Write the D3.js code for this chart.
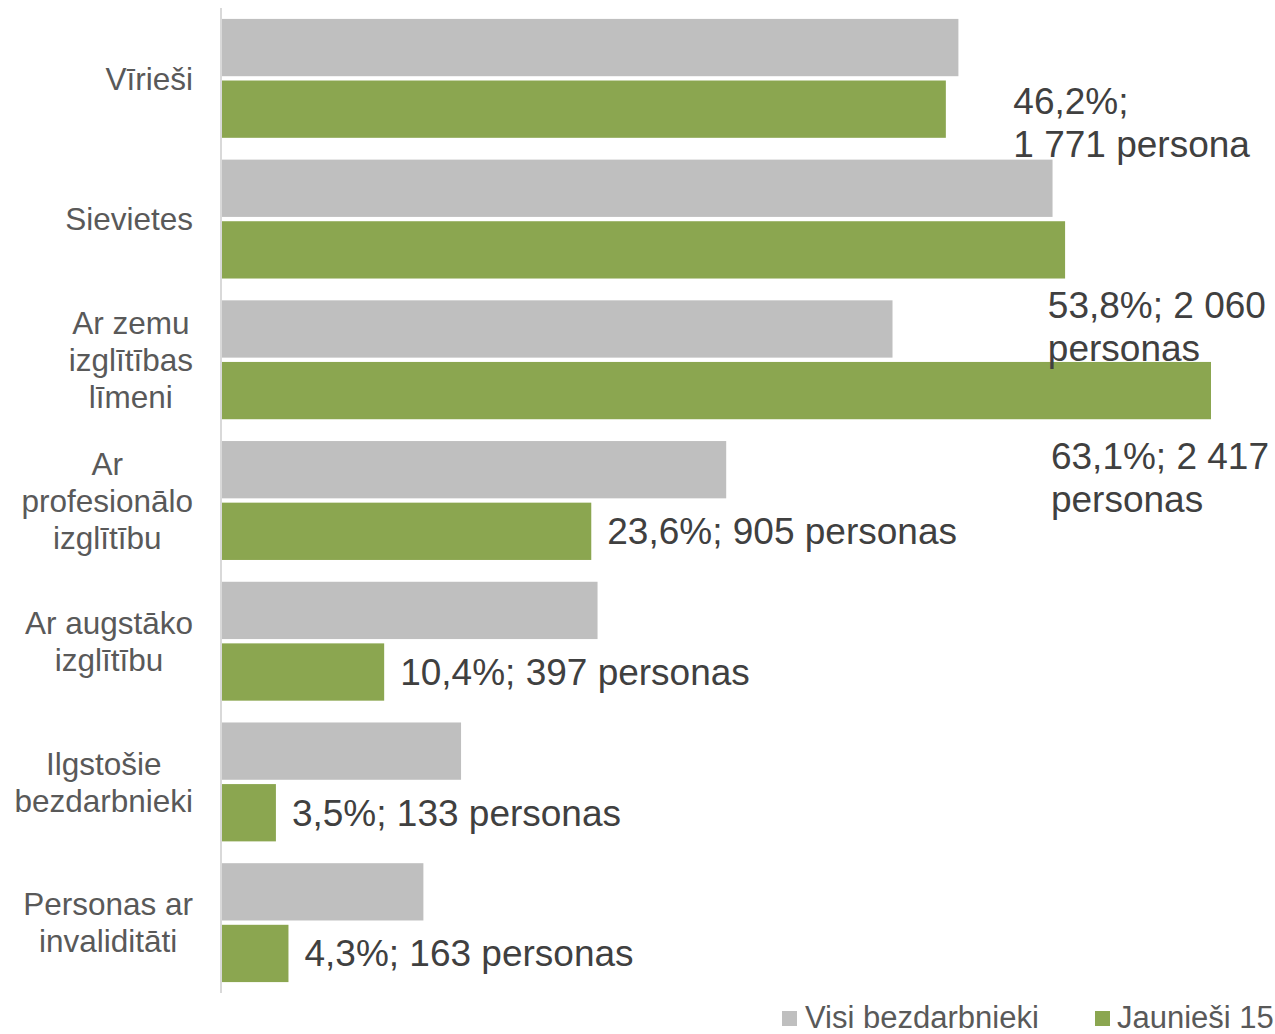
<!DOCTYPE html>
<html>
<head>
<meta charset="utf-8">
<script src="https://cdn.jsdelivr.net/npm/d3@7/dist/d3.min.js"></script>
<style>
  html, body { margin: 0; padding: 0; background: #fff; }
  svg { display: block; font-family: "Liberation Sans", Arial, sans-serif; }
</style>
</head>
<body>
<svg id="chart" width="1275" height="1034"></svg>
<script>
// ---- data ----
const categories = ["Vīrieši", "Sievietes", "Ar zemu izglītības līmeni", "Ar profesionālo izglītību", "Ar augstāko izglītību", "Ilgstošie bezdarbnieki", "Personas ar invaliditāti"];
const categoryLines = [["Vīrieši"], ["Sievietes"], ["Ar zemu", "izglītības", "līmeni"], ["Ar", "profesionālo", "izglītību"], ["Ar augstāko", "izglītību"], ["Ilgstošie", "bezdarbnieki"], ["Personas ar", "invaliditāti"]];
const seriesNames = ["Visi bezdarbnieki", "Jaunieši 15"];
const allUnemployed = [47.0, 53.0, 42.8, 32.2, 24.0, 15.3, 12.9];
const youth = [46.2, 53.8, 63.1, 23.6, 10.4, 3.5, 4.3];
const youthCounts = ["1 771", "2 060", "2 417", "905", "397", "133", "163"];
const dataLabelLines = [
  ["46,2%;", "1 771 persona"],
  ["53,8%; 2 060", "personas"],
  ["63,1%; 2 417", "personas"],
  ["23,6%; 905 personas"],
  ["10,4%; 397 personas"],
  ["3,5%; 133 personas"],
  ["4,3%; 163 personas"]
];
const seriesColors = ["#BFBFBF", "#8BA650"];

// ---- layout (manual label placements, as in the original) ----
const manualLabelX = [50.5, 52.7, 52.9, null, null, null, null]; // in value units
const manualLabelDy = [4.5, 68.5, 78, null, null, null, null];   // baseline offset from green bar centre

const svg = d3.select("#chart");
const left = 221, plotTop = 8, plotBottom = 993;

const x = d3.scaleLinear().domain([0, d3.max(youth)]).range([left, 1211]);
const y0 = d3.scaleBand().domain(categories).range([plotTop, plotBottom]).paddingInner(0.155).paddingOuter(0.0775);
const y1 = d3.scaleBand().domain(seriesNames).range([0, y0.bandwidth()]).paddingInner(0.07);

const rows = categories.map((c, i) => ({ cat: c, i, vals: [allUnemployed[i], youth[i]] }));

// bars
const g = svg.append("g");
rows.forEach(r => {
  r.vals.forEach((v, si) => {
    g.append("rect")
      .attr("x", x(0))
      .attr("y", y0(r.cat) + y1(seriesNames[si]))
      .attr("width", x(v) - x(0))
      .attr("height", y1.bandwidth())
      .attr("fill", seriesColors[si]);
  });
});

// axis line
svg.append("line")
  .attr("x1", left).attr("x2", left)
  .attr("y1", plotTop).attr("y2", plotBottom)
  .attr("stroke", "#D9D9D9").attr("stroke-width", 2);

// category labels
const catFont = 31.5, catLH = 37;
rows.forEach(r => {
  const lines = categoryLines[r.i];
  const cy = y0(r.cat) + y0.bandwidth() / 2;
  const t = svg.append("text")
    .attr("fill", "#595959")
    .attr("font-size", catFont + "px")
    .attr("text-anchor", "middle");
  const n = lines.length;
  lines.forEach((ln, k) => {
    t.append("tspan")
      .attr("y", cy + (k - (n - 1) / 2) * catLH + catFont * 0.36)
      .text(ln);
  });
  let maxW = 0;
  t.selectAll("tspan").each(function () { maxW = Math.max(maxW, this.getComputedTextLength()); });
  t.selectAll("tspan").attr("x", 193 - maxW / 2);
});

// data labels (green series)
const dlFont = 37, dlLH = 43;
rows.forEach(r => {
  const lines = dataLabelLines[r.i];
  const barCy = y0(r.cat) + y1(seriesNames[1]) + y1.bandwidth() / 2;
  const t = svg.append("text")
    .attr("fill", "#404040")
    .attr("font-size", dlFont + "px");
  if (manualLabelX[r.i] !== null) {
    lines.forEach((ln, k) => {
      t.append("tspan")
        .attr("x", x(manualLabelX[r.i]))
        .attr("y", barCy + manualLabelDy[r.i] + k * dlLH)
        .text(ln);
    });
  } else {
    t.append("tspan")
      .attr("x", x(youth[r.i]) + 16)
      .attr("y", barCy + dlFont * 0.35)
      .text(lines[0]);
  }
});

// legend
const legend = [
  { name: seriesNames[0], color: seriesColors[0], mx: 782, tx: 805 },
  { name: seriesNames[1], color: seriesColors[1], mx: 1095, tx: 1117 }
];
legend.forEach(l => {
  svg.append("rect").attr("x", l.mx).attr("y", 1011).attr("width", 15).attr("height", 15).attr("fill", l.color);
  svg.append("text").attr("x", l.tx).attr("y", 1028)
    .attr("fill", "#595959").attr("font-size", "31px").text(l.name);
});
</script>
</body>
</html>
